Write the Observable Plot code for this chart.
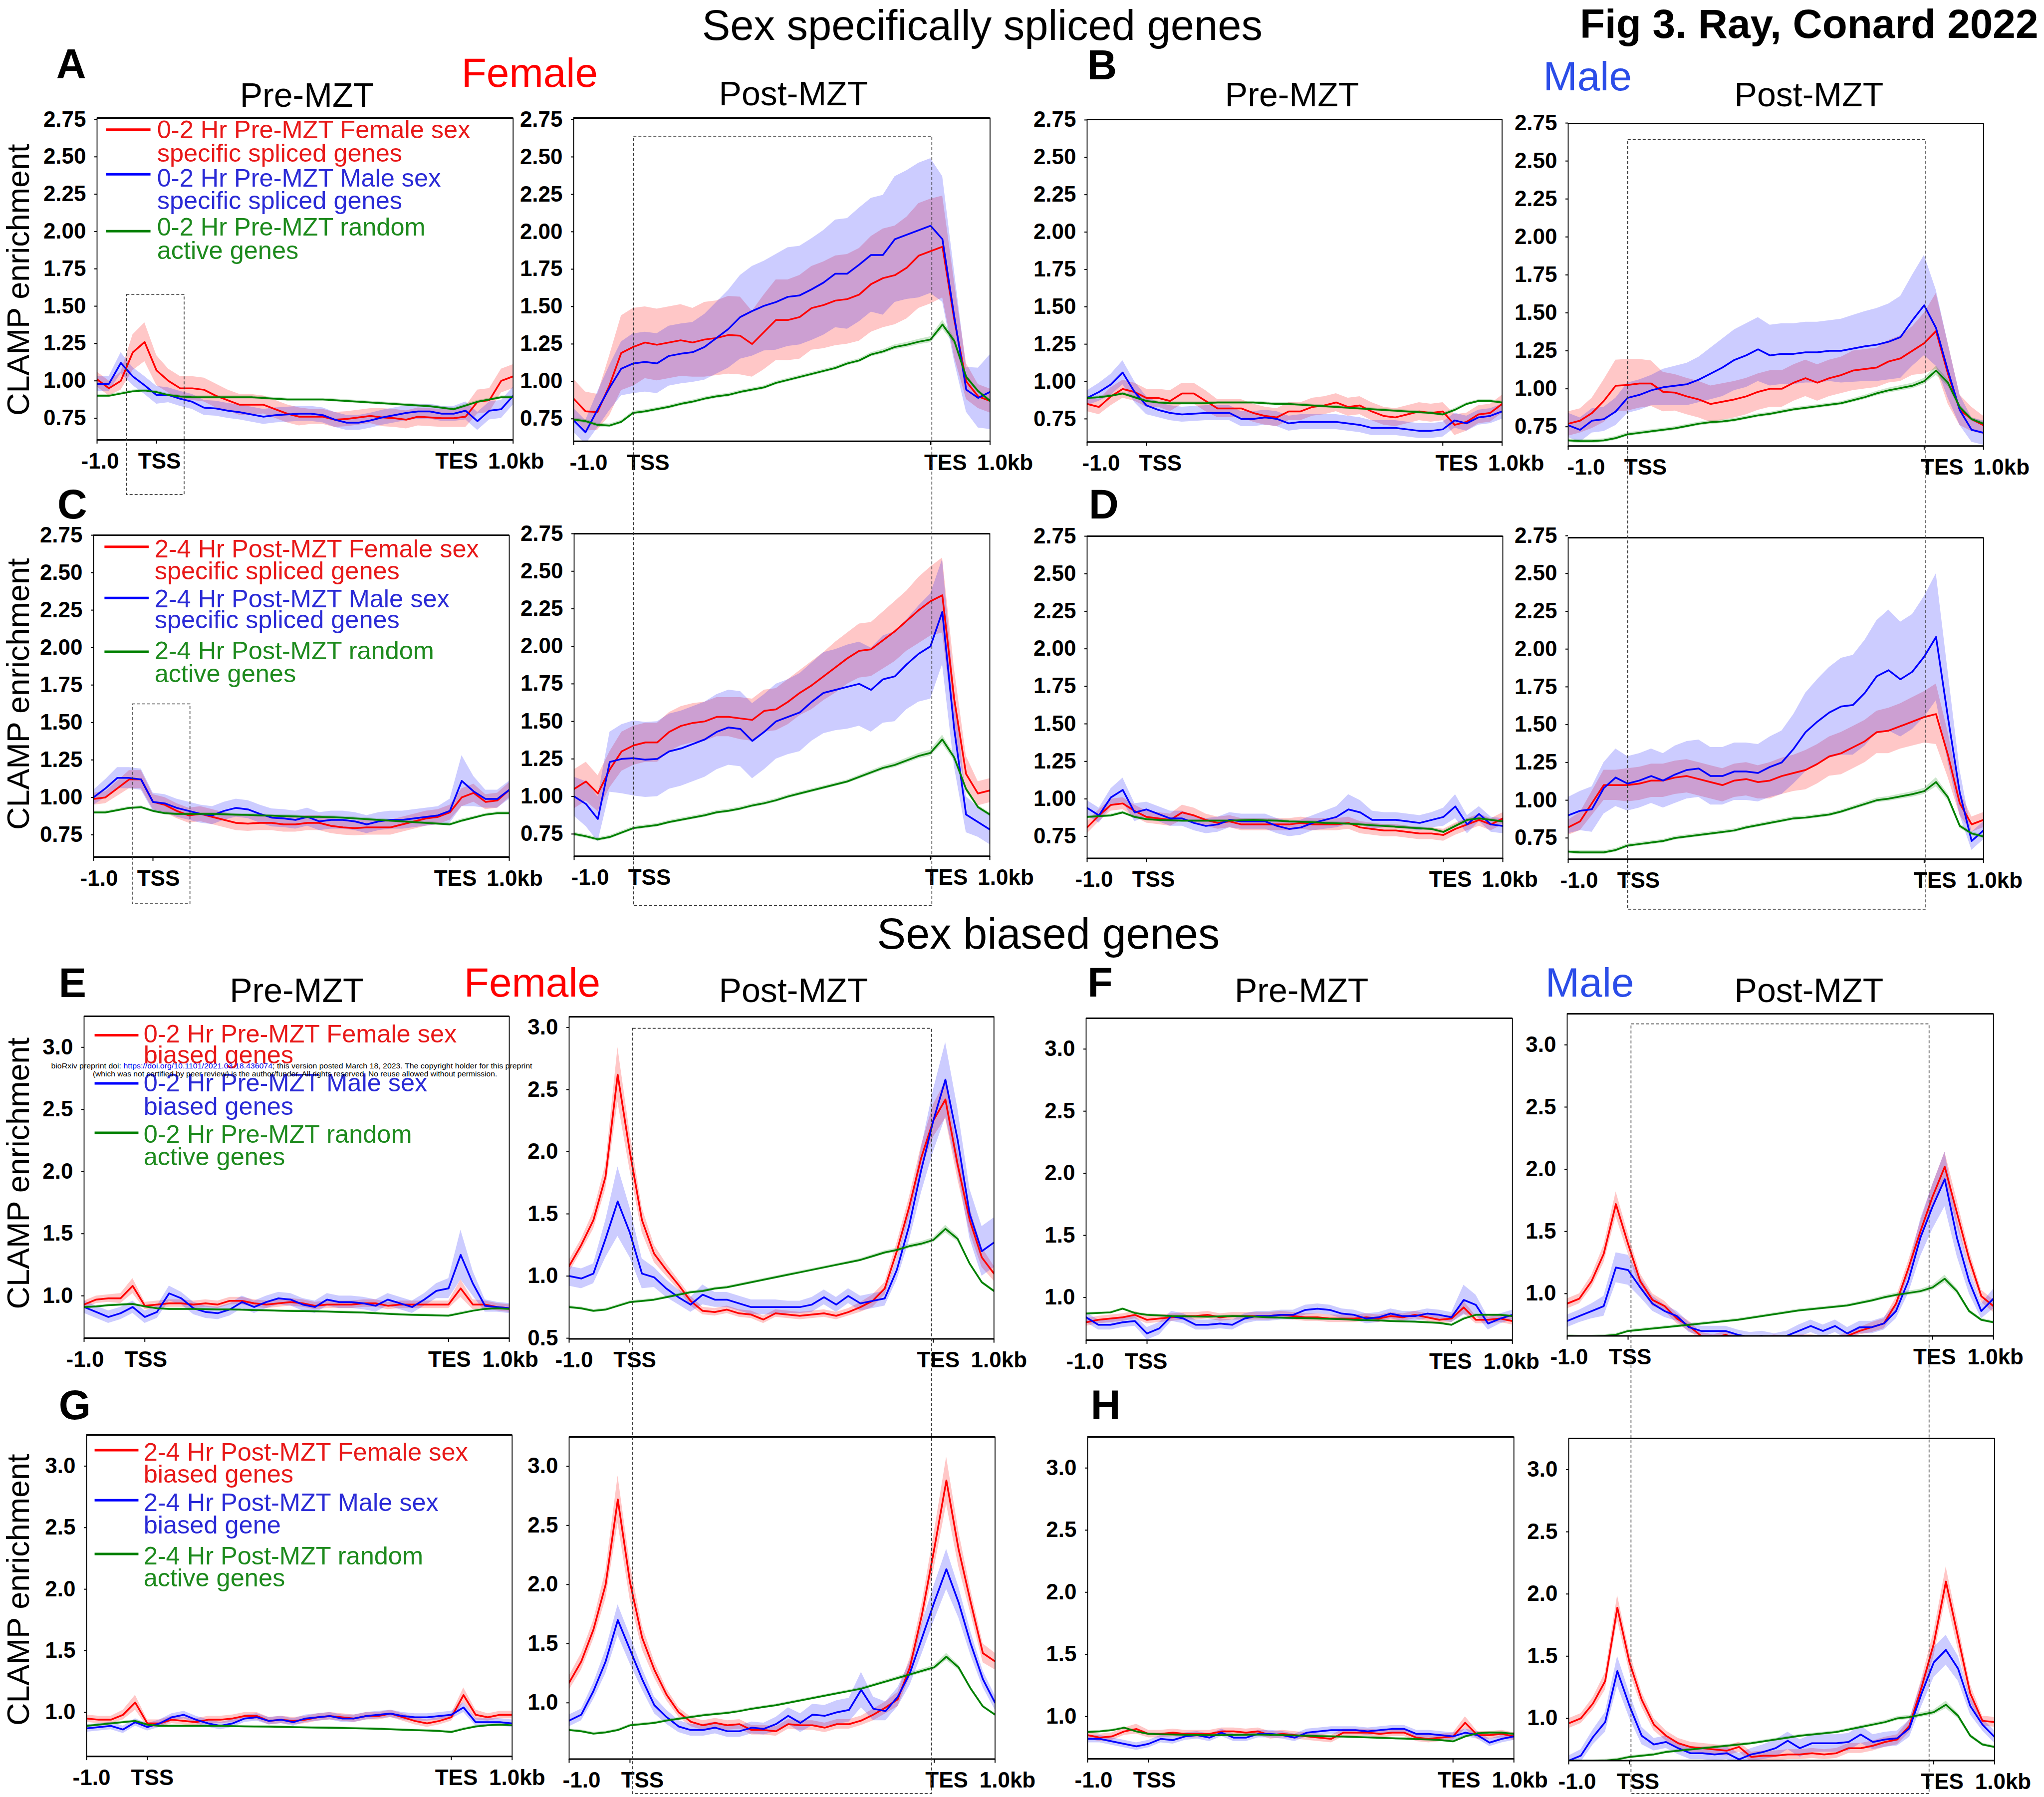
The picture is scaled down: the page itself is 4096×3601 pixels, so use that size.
<!DOCTYPE html>
<html>
<head>
<meta charset="utf-8">
<script src="https://cdn.jsdelivr.net/npm/d3@7"></script>
<script src="https://cdn.jsdelivr.net/npm/@observablehq/plot@0.6"></script>
<style>
html,body{margin:0;padding:0;background:#fff;}
#fig{position:relative;width:4096px;height:3601px;overflow:hidden;background:#fff;}
.panel{position:absolute;}
.panel svg text{font-weight:700 !important;}
</style>
</head>
<body>
<div id="fig"></div>
<script>
// ---------------- DATA ----------------
const binIndex = [0,1,2,3,4,5,6,7,8,9,10,11,12,13,14,15,16,17,18,19,20,21,22,23,24,25,26,27,28,29,30,31,32,33,34,35];
const xTickPos = [0, 5, 30, 35];
const xTickLabels = ["-1.0", "TSS", "TES", "1.0kb"];
const yTicksSpliced = [0.75, 1.0, 1.25, 1.5, 1.75, 2.0, 2.25, 2.5, 2.75];
const yTicksBiased = [1.0, 1.5, 2.0, 2.5, 3.0];
const yTicksBiasedLow = [0.5, 1.0, 1.5, 2.0, 2.5, 3.0];
const seriesColors = ["#ff0000", "#0000ff", "#008000"];

const random_se_pre = [0.01,0.01,0.01,0.01,0.01,0.01, 0.01,0.01,0.01,0.01,0.01,0.01, 0.01,0.01,0.01,0.01,0.01,0.01, 0.01,0.01,0.01,0.01,0.01,0.01, 0.01,0.01,0.01,0.01,0.01,0.01, 0.01,0.012,0.01,0.01,0.01,0.01];
const random_se_post = [0.012,0.012,0.012,0.012,0.012,0.012, 0.012,0.012,0.012,0.012,0.012,0.012, 0.012,0.012,0.012,0.012,0.012,0.012, 0.012,0.012,0.012,0.012,0.012,0.012, 0.013,0.014,0.015,0.016,0.017,0.018, 0.02,0.03,0.022,0.015,0.012,0.012];

const A_pre_female = [1.01,0.95,1.00,1.19,1.26,1.07, 1.00,0.95,0.95,0.94,0.90,0.87, 0.84,0.84,0.84,0.81,0.78,0.76, 0.76,0.76,0.74,0.745,0.755,0.765, 0.755,0.75,0.74,0.76,0.755,0.75, 0.75,0.76,0.86,0.87,1.00,1.03];
const A_pre_female_se = [0.05,0.05,0.06,0.12,0.13,0.10, 0.08,0.08,0.08,0.08,0.08,0.07, 0.07,0.07,0.06,0.06,0.06,0.06, 0.05,0.05,0.05,0.05,0.05,0.05, 0.06,0.06,0.06,0.06,0.06,0.06, 0.06,0.07,0.08,0.08,0.08,0.08];
const A_pre_male = [0.98,0.98,1.12,1.03,0.97,0.905, 0.905,0.88,0.86,0.82,0.815,0.80, 0.79,0.775,0.76,0.77,0.775,0.78, 0.78,0.77,0.74,0.72,0.72,0.735, 0.755,0.77,0.785,0.795,0.795,0.78, 0.78,0.80,0.73,0.80,0.81,0.90];
const A_pre_male_se = [0.05,0.05,0.07,0.06,0.06,0.06, 0.05,0.05,0.05,0.05,0.05,0.05, 0.05,0.05,0.05,0.05,0.05,0.05, 0.05,0.05,0.05,0.05,0.05,0.05, 0.05,0.05,0.05,0.05,0.05,0.05, 0.05,0.06,0.06,0.06,0.06,0.06];
const A_pre_random = [0.90,0.90,0.915,0.93,0.935,0.925, 0.905,0.895,0.89,0.89,0.89,0.89, 0.89,0.89,0.885,0.88,0.875,0.875, 0.875,0.875,0.87,0.865,0.86,0.855, 0.85,0.845,0.84,0.835,0.83,0.82, 0.81,0.835,0.86,0.875,0.89,0.89];

const A_post_female = [0.885,0.80,0.795,0.97,1.19,1.23, 1.26,1.245,1.26,1.275,1.26,1.28, 1.29,1.31,1.305,1.25,1.33,1.41, 1.41,1.43,1.49,1.51,1.54,1.55, 1.58,1.65,1.69,1.71,1.76,1.84, 1.87,1.90,1.41,1.00,0.90,0.87];
const A_post_female_se = [0.13,0.13,0.12,0.20,0.25,0.26, 0.24,0.24,0.24,0.24,0.23,0.25, 0.25,0.26,0.26,0.22,0.25,0.27, 0.27,0.28,0.28,0.29,0.30,0.30, 0.31,0.32,0.33,0.33,0.34,0.35, 0.35,0.34,0.25,0.12,0.08,0.08];
const A_post_male = [0.74,0.66,0.81,0.955,1.085,1.12, 1.13,1.12,1.17,1.185,1.195,1.23, 1.29,1.35,1.43,1.47,1.505,1.53, 1.565,1.575,1.615,1.66,1.72,1.72, 1.78,1.845,1.845,1.95,1.98,2.01, 2.04,1.95,1.43,0.945,0.89,0.93];
const A_post_male_se = [0.08,0.08,0.12,0.15,0.18,0.20, 0.20,0.20,0.20,0.20,0.20,0.22, 0.24,0.26,0.28,0.30,0.30,0.32, 0.33,0.33,0.34,0.35,0.36,0.37, 0.38,0.38,0.40,0.42,0.43,0.45, 0.45,0.42,0.30,0.15,0.20,0.25];
const A_post_random = [0.745,0.735,0.71,0.705,0.73,0.79, 0.80,0.815,0.83,0.85,0.865,0.885, 0.90,0.91,0.93,0.945,0.96,0.99, 1.01,1.03,1.05,1.07,1.09,1.12, 1.14,1.18,1.20,1.23,1.245,1.265, 1.28,1.38,1.27,1.03,0.935,0.87];

const B_pre_female = [0.85,0.83,0.90,0.95,0.93,0.89, 0.89,0.87,0.92,0.92,0.87,0.82, 0.82,0.82,0.79,0.77,0.76,0.80, 0.80,0.83,0.84,0.86,0.83,0.84, 0.80,0.77,0.76,0.78,0.80,0.79, 0.80,0.71,0.73,0.78,0.79,0.85];
const B_pre_female_se = [0.05,0.05,0.06,0.06,0.06,0.06, 0.06,0.07,0.07,0.07,0.07,0.06, 0.06,0.06,0.06,0.06,0.06,0.06, 0.06,0.06,0.06,0.06,0.06,0.06, 0.06,0.06,0.06,0.06,0.06,0.06, 0.06,0.07,0.06,0.06,0.06,0.06];
const B_pre_male = [0.89,0.93,0.98,1.06,0.93,0.84, 0.81,0.79,0.78,0.785,0.79,0.79, 0.79,0.75,0.75,0.76,0.75,0.72, 0.73,0.73,0.73,0.73,0.72,0.71, 0.69,0.69,0.69,0.68,0.67,0.67, 0.68,0.74,0.72,0.76,0.77,0.80];
const B_pre_male_se = [0.05,0.06,0.07,0.08,0.07,0.06, 0.05,0.05,0.05,0.05,0.05,0.05, 0.05,0.05,0.05,0.05,0.05,0.05, 0.05,0.05,0.05,0.05,0.05,0.05, 0.05,0.05,0.05,0.05,0.05,0.05, 0.05,0.05,0.05,0.05,0.05,0.05];
const B_pre_random = [0.89,0.895,0.905,0.92,0.895,0.87, 0.86,0.855,0.855,0.855,0.855,0.86, 0.86,0.86,0.86,0.855,0.85,0.85, 0.845,0.84,0.835,0.83,0.825,0.82, 0.815,0.81,0.805,0.80,0.795,0.79, 0.78,0.81,0.85,0.87,0.87,0.86];

const B_post_female = [0.77,0.79,0.84,0.92,1.02,1.025, 1.035,1.035,0.98,0.975,0.95,0.93, 0.90,0.915,0.93,0.95,0.98,1.00, 1.00,1.04,1.07,1.04,1.07,1.09, 1.12,1.13,1.14,1.18,1.20,1.25, 1.30,1.38,1.10,0.86,0.80,0.76];
const B_post_female_se = [0.08,0.08,0.10,0.14,0.17,0.17, 0.16,0.15,0.13,0.12,0.12,0.12, 0.12,0.12,0.12,0.12,0.12,0.12, 0.12,0.12,0.12,0.12,0.12,0.12, 0.13,0.13,0.13,0.14,0.15,0.16, 0.20,0.25,0.20,0.10,0.08,0.06];
const B_post_male = [0.76,0.73,0.79,0.80,0.85,0.94, 0.96,0.99,1.01,1.02,1.03,1.06, 1.10,1.14,1.19,1.22,1.26,1.22, 1.23,1.23,1.24,1.24,1.25,1.25, 1.265,1.28,1.29,1.31,1.34,1.45, 1.55,1.40,1.12,0.86,0.73,0.71];
const B_post_male_se = [0.08,0.08,0.08,0.08,0.09,0.10, 0.10,0.10,0.12,0.13,0.14,0.15, 0.17,0.19,0.20,0.21,0.21,0.20, 0.20,0.20,0.20,0.20,0.20,0.21, 0.22,0.23,0.24,0.25,0.27,0.30, 0.33,0.25,0.18,0.10,0.08,0.08];
const B_post_random = [0.66,0.655,0.655,0.66,0.675,0.70, 0.71,0.72,0.73,0.74,0.755,0.77, 0.78,0.785,0.795,0.81,0.825,0.835, 0.85,0.865,0.875,0.885,0.895,0.905, 0.925,0.945,0.97,0.99,1.005,1.02, 1.05,1.12,1.04,0.88,0.80,0.77];

const C_pre_female = [0.99,1.00,1.06,1.12,1.12,0.97, 0.95,0.91,0.88,0.89,0.87,0.85, 0.83,0.825,0.83,0.83,0.82,0.82, 0.83,0.83,0.81,0.80,0.795,0.80, 0.80,0.80,0.82,0.84,0.86,0.87, 0.90,1.00,1.03,0.97,0.98,1.05];
const C_pre_female_se = [0.04,0.04,0.05,0.06,0.06,0.05, 0.05,0.05,0.05,0.05,0.05,0.05, 0.05,0.05,0.05,0.05,0.05,0.05, 0.05,0.05,0.05,0.05,0.05,0.05, 0.05,0.05,0.05,0.05,0.05,0.05, 0.05,0.06,0.06,0.05,0.05,0.05];
const C_pre_male = [1.00,1.06,1.13,1.13,1.12,0.97, 0.96,0.93,0.91,0.89,0.88,0.91, 0.93,0.92,0.89,0.865,0.86,0.85, 0.87,0.84,0.85,0.85,0.84,0.82, 0.84,0.85,0.85,0.86,0.87,0.88, 0.91,1.11,1.04,0.99,0.99,1.05];
const C_pre_male_se = [0.05,0.06,0.07,0.07,0.07,0.06, 0.06,0.06,0.06,0.06,0.06,0.06, 0.06,0.06,0.06,0.06,0.06,0.06, 0.06,0.06,0.06,0.06,0.06,0.06, 0.06,0.06,0.06,0.06,0.06,0.06, 0.08,0.17,0.10,0.06,0.06,0.06];
const C_pre_random = [0.90,0.90,0.915,0.93,0.935,0.91, 0.895,0.89,0.89,0.89,0.89,0.887, 0.885,0.883,0.88,0.878,0.875,0.873, 0.87,0.87,0.868,0.865,0.86,0.855, 0.85,0.845,0.84,0.835,0.83,0.825, 0.82,0.845,0.865,0.885,0.895,0.895];

const C_post_female = [1.05,1.10,1.02,1.18,1.30,1.34, 1.36,1.36,1.43,1.47,1.49,1.50, 1.53,1.53,1.52,1.51,1.57,1.58, 1.63,1.69,1.74,1.80,1.86,1.92, 1.97,1.98,2.04,2.10,2.17,2.24, 2.30,2.34,1.65,1.15,1.02,1.04];
const C_post_female_se = [0.13,0.13,0.12,0.12,0.13,0.13, 0.13,0.13,0.13,0.13,0.13,0.13, 0.13,0.13,0.14,0.14,0.14,0.14, 0.15,0.15,0.16,0.16,0.17,0.17, 0.18,0.18,0.19,0.20,0.20,0.22, 0.23,0.25,0.20,0.12,0.08,0.08];
const C_post_male = [1.00,0.95,0.85,1.23,1.25,1.255, 1.245,1.25,1.30,1.32,1.35,1.38, 1.43,1.46,1.45,1.37,1.43,1.50, 1.53,1.56,1.63,1.69,1.71,1.73, 1.75,1.71,1.78,1.80,1.88,1.95, 2.00,2.23,1.45,0.88,0.83,0.78];
const C_post_male_se = [0.13,0.15,0.15,0.20,0.23,0.25, 0.25,0.25,0.25,0.25,0.25,0.25, 0.25,0.25,0.25,0.25,0.25,0.25, 0.25,0.26,0.26,0.27,0.27,0.28, 0.28,0.28,0.29,0.30,0.30,0.32, 0.35,0.35,0.25,0.12,0.10,0.10];
const C_post_random = [0.75,0.735,0.715,0.73,0.76,0.79, 0.80,0.81,0.83,0.845,0.86,0.875, 0.895,0.905,0.92,0.94,0.955,0.975, 1.00,1.02,1.04,1.06,1.08,1.10, 1.13,1.16,1.19,1.21,1.24,1.27, 1.29,1.38,1.26,1.05,0.93,0.88];

const D_pre_female = [0.81,0.89,0.96,0.97,0.92,0.88, 0.87,0.86,0.91,0.89,0.86,0.84, 0.85,0.83,0.83,0.83,0.83,0.83, 0.84,0.83,0.83,0.83,0.84,0.81, 0.80,0.79,0.79,0.78,0.77,0.77, 0.76,0.80,0.83,0.86,0.83,0.87];
const D_pre_female_se = [0.04,0.04,0.04,0.04,0.04,0.04, 0.04,0.04,0.05,0.05,0.04,0.04, 0.04,0.04,0.04,0.04,0.04,0.04, 0.04,0.04,0.04,0.04,0.04,0.04, 0.04,0.04,0.04,0.04,0.04,0.04, 0.04,0.04,0.04,0.04,0.04,0.04];
const D_pre_male = [0.94,0.89,1.01,1.06,0.91,0.93, 0.90,0.87,0.87,0.84,0.82,0.83, 0.86,0.85,0.85,0.85,0.82,0.80, 0.81,0.84,0.86,0.88,0.93,0.91, 0.86,0.86,0.86,0.85,0.84,0.86, 0.88,0.95,0.83,0.90,0.83,0.82];
const D_pre_male_se = [0.05,0.05,0.06,0.08,0.06,0.05, 0.05,0.05,0.05,0.05,0.05,0.05, 0.05,0.05,0.05,0.05,0.05,0.05, 0.05,0.05,0.06,0.07,0.10,0.08, 0.06,0.05,0.05,0.05,0.05,0.05, 0.06,0.08,0.06,0.05,0.05,0.05];
const D_pre_random = [0.88,0.885,0.89,0.91,0.88,0.865, 0.86,0.858,0.855,0.855,0.855,0.855, 0.855,0.858,0.86,0.857,0.855,0.85, 0.848,0.845,0.84,0.838,0.835,0.83, 0.825,0.82,0.815,0.81,0.805,0.80, 0.78,0.82,0.86,0.87,0.86,0.85];

const D_post_female = [0.82,0.86,0.98,1.10,1.10,1.10, 1.11,1.13,1.13,1.15,1.16,1.14, 1.12,1.10,1.13,1.14,1.12,1.13, 1.16,1.18,1.20,1.24,1.29,1.31, 1.35,1.39,1.45,1.46,1.49,1.52, 1.55,1.57,1.30,0.98,0.84,0.87];
const D_post_female_se = [0.05,0.06,0.08,0.10,0.10,0.11, 0.11,0.11,0.11,0.11,0.11,0.11, 0.11,0.11,0.11,0.11,0.11,0.12, 0.12,0.12,0.13,0.13,0.13,0.14, 0.14,0.14,0.14,0.15,0.15,0.16, 0.17,0.20,0.15,0.08,0.05,0.05];
const D_post_male = [0.90,0.93,0.94,1.08,1.15,1.11, 1.13,1.16,1.13,1.17,1.20,1.21, 1.16,1.16,1.19,1.19,1.18,1.22, 1.25,1.34,1.45,1.52,1.58,1.62, 1.63,1.71,1.82,1.86,1.80,1.85, 1.95,2.08,1.55,1.05,0.73,0.80];
const D_post_male_se = [0.12,0.13,0.15,0.17,0.19,0.18, 0.18,0.18,0.18,0.19,0.19,0.19, 0.19,0.19,0.19,0.19,0.19,0.20, 0.21,0.23,0.26,0.28,0.30,0.32, 0.33,0.35,0.37,0.40,0.38,0.38, 0.40,0.42,0.30,0.15,0.06,0.06];
const D_post_random = [0.66,0.655,0.655,0.655,0.67,0.70, 0.71,0.72,0.73,0.75,0.76,0.77, 0.78,0.79,0.80,0.82,0.835,0.85, 0.865,0.88,0.885,0.895,0.905,0.925, 0.95,0.975,1.00,1.01,1.025,1.04, 1.06,1.12,1.02,0.83,0.78,0.76];

const E_pre_female = [0.93,0.97,0.98,0.98,1.08,0.92, 0.93,0.94,0.94,0.93,0.94,0.93, 0.96,0.96,0.94,0.93,0.94,0.95, 0.94,0.92,0.93,0.93,0.93,0.94, 0.94,0.92,0.93,0.93,0.93,0.93, 0.93,1.06,0.93,0.93,0.91,0.90];
const E_pre_female_se = [0.03,0.03,0.03,0.04,0.06,0.03, 0.03,0.03,0.03,0.03,0.03,0.03, 0.03,0.03,0.03,0.03,0.03,0.03, 0.03,0.03,0.03,0.03,0.03,0.03, 0.03,0.03,0.03,0.03,0.03,0.03, 0.03,0.07,0.04,0.03,0.03,0.03];
const E_pre_male = [0.91,0.87,0.83,0.86,0.91,0.83, 0.87,1.02,0.98,0.90,0.87,0.86, 0.89,0.95,0.91,0.95,0.98,0.97, 0.93,0.91,0.97,0.95,0.95,0.94, 0.92,0.97,0.94,0.91,0.97,1.04, 1.06,1.33,1.10,0.92,0.91,0.90];
const E_pre_male_se = [0.05,0.05,0.05,0.05,0.05,0.05, 0.05,0.06,0.05,0.05,0.05,0.05, 0.05,0.05,0.05,0.05,0.05,0.05, 0.05,0.05,0.05,0.05,0.05,0.05, 0.05,0.05,0.05,0.05,0.05,0.06, 0.08,0.20,0.10,0.05,0.04,0.04];
const E_pre_random = [0.91,0.915,0.925,0.93,0.935,0.915, 0.90,0.895,0.895,0.895,0.893,0.89, 0.89,0.888,0.885,0.883,0.88,0.878, 0.877,0.875,0.873,0.87,0.867,0.865, 0.86,0.855,0.85,0.847,0.845,0.842, 0.84,0.86,0.88,0.895,0.90,0.895];

const E_post_female = [1.08,1.25,1.45,1.80,2.62,2.00, 1.45,1.18,1.05,0.93,0.80,0.72, 0.71,0.73,0.70,0.69,0.65,0.70, 0.69,0.68,0.69,0.70,0.68,0.71, 0.75,0.80,0.90,1.20,1.55,1.95, 2.25,2.42,1.90,1.45,1.15,1.02];
const E_post_female_se = [0.05,0.05,0.07,0.10,0.22,0.15, 0.10,0.07,0.05,0.04,0.04,0.03, 0.03,0.03,0.03,0.03,0.03,0.03, 0.03,0.03,0.03,0.03,0.03,0.03, 0.04,0.05,0.05,0.07,0.08,0.10, 0.13,0.15,0.12,0.10,0.08,0.06];
const E_post_male = [1.00,0.98,1.02,1.30,1.60,1.35, 1.02,0.99,0.90,0.83,0.77,0.85, 0.81,0.81,0.78,0.75,0.75,0.75, 0.75,0.75,0.77,0.83,0.77,0.84, 0.78,0.80,0.82,1.05,1.40,1.85, 2.25,2.58,2.10,1.50,1.20,1.27];
const E_post_male_se = [0.08,0.08,0.08,0.15,0.28,0.20, 0.12,0.08,0.07,0.06,0.06,0.08, 0.06,0.06,0.06,0.06,0.06,0.06, 0.05,0.05,0.06,0.06,0.06,0.06, 0.06,0.06,0.06,0.08,0.12,0.18, 0.25,0.30,0.25,0.20,0.20,0.20];
const E_post_random = [0.75,0.74,0.72,0.73,0.76,0.79, 0.80,0.81,0.83,0.85,0.87,0.88, 0.90,0.91,0.93,0.95,0.97,0.99, 1.01,1.03,1.05,1.07,1.09,1.11, 1.13,1.16,1.19,1.21,1.24,1.26, 1.29,1.38,1.30,1.10,0.95,0.88];

const F_pre_female = [0.80,0.82,0.83,0.84,0.86,0.82, 0.83,0.84,0.85,0.85,0.86,0.84, 0.85,0.85,0.85,0.85,0.86,0.85, 0.84,0.84,0.83,0.83,0.83,0.84, 0.83,0.85,0.84,0.86,0.84,0.82, 0.83,0.92,0.82,0.82,0.83,0.81];
const F_pre_female_se = [0.03,0.03,0.03,0.03,0.03,0.03, 0.03,0.03,0.03,0.03,0.03,0.03, 0.03,0.03,0.03,0.03,0.03,0.03, 0.03,0.03,0.03,0.03,0.03,0.03, 0.03,0.03,0.03,0.03,0.03,0.03, 0.03,0.05,0.03,0.03,0.03,0.03];
const F_pre_male = [0.84,0.78,0.78,0.80,0.81,0.71, 0.75,0.85,0.83,0.78,0.78,0.79, 0.78,0.83,0.85,0.85,0.86,0.86, 0.90,0.91,0.90,0.87,0.86,0.83, 0.84,0.87,0.85,0.85,0.87,0.86, 0.84,0.98,0.94,0.79,0.83,0.86];
const F_pre_male_se = [0.04,0.04,0.04,0.04,0.04,0.05, 0.05,0.04,0.04,0.04,0.04,0.04, 0.04,0.04,0.04,0.04,0.04,0.04, 0.04,0.04,0.04,0.04,0.04,0.04, 0.04,0.04,0.04,0.04,0.04,0.04, 0.04,0.12,0.08,0.05,0.04,0.04];
const F_pre_random = [0.87,0.875,0.88,0.91,0.875,0.86, 0.855,0.85,0.848,0.846,0.845,0.847, 0.85,0.848,0.845,0.84,0.837,0.835, 0.833,0.83,0.828,0.825,0.82,0.817, 0.815,0.81,0.807,0.805,0.80,0.795, 0.78,0.83,0.86,0.86,0.86,0.85];

const F_post_female = [0.92,0.96,1.10,1.32,1.72,1.40, 1.10,0.95,0.90,0.80,0.74,0.66, 0.64,0.67,0.63,0.63,0.62,0.64, 0.63,0.64,0.64,0.63,0.62,0.66, 0.70,0.73,0.76,0.92,1.20,1.50, 1.78,2.02,1.65,1.28,0.98,0.90];
const F_post_female_se = [0.04,0.04,0.05,0.07,0.10,0.08, 0.06,0.05,0.04,0.04,0.04,0.03, 0.03,0.03,0.03,0.03,0.03,0.03, 0.03,0.03,0.03,0.03,0.03,0.03, 0.03,0.04,0.04,0.05,0.06,0.08, 0.10,0.12,0.10,0.07,0.05,0.05];
const F_post_male = [0.78,0.82,0.86,0.90,1.21,1.19, 1.05,0.92,0.86,0.82,0.73,0.70, 0.70,0.70,0.67,0.65,0.66,0.64, 0.66,0.70,0.74,0.70,0.74,0.68, 0.73,0.73,0.76,0.86,1.10,1.45, 1.70,1.92,1.45,1.10,0.86,0.96];
const F_post_male_se = [0.05,0.05,0.06,0.08,0.12,0.12, 0.08,0.06,0.05,0.04,0.04,0.04, 0.04,0.04,0.04,0.04,0.04,0.04, 0.04,0.05,0.05,0.05,0.05,0.05, 0.05,0.05,0.05,0.06,0.10,0.15, 0.18,0.22,0.15,0.10,0.06,0.08];
const F_post_random = [0.66,0.655,0.655,0.66,0.67,0.70, 0.71,0.72,0.73,0.74,0.75,0.76, 0.77,0.78,0.79,0.805,0.82,0.835, 0.85,0.865,0.875,0.885,0.895,0.905, 0.925,0.945,0.97,0.99,1.005,1.02, 1.05,1.12,1.02,0.86,0.79,0.77];

const G_pre_female = [0.95,0.94,0.94,0.98,1.08,0.91, 0.91,0.94,0.93,0.92,0.94,0.94, 0.95,0.97,0.97,0.93,0.94,0.93, 0.94,0.96,0.97,0.96,0.95,0.97, 0.97,0.99,0.96,0.93,0.91,0.93, 0.96,1.14,0.98,0.96,0.98,0.98];
const G_pre_female_se = [0.03,0.03,0.03,0.04,0.06,0.03, 0.03,0.03,0.03,0.03,0.03,0.03, 0.03,0.03,0.03,0.03,0.03,0.03, 0.03,0.03,0.03,0.03,0.03,0.03, 0.03,0.03,0.03,0.03,0.03,0.03, 0.03,0.06,0.04,0.03,0.03,0.03];
const G_pre_male = [0.87,0.88,0.89,0.86,0.92,0.88, 0.91,0.96,0.98,0.94,0.91,0.89, 0.91,0.95,0.96,0.93,0.94,0.92, 0.95,0.96,0.97,0.95,0.95,0.97, 0.98,0.99,0.97,0.96,0.96,0.97, 0.98,1.04,0.92,0.92,0.92,0.91];
const G_pre_male_se = [0.03,0.03,0.03,0.03,0.03,0.03, 0.03,0.03,0.03,0.03,0.03,0.03, 0.03,0.03,0.03,0.03,0.03,0.03, 0.03,0.03,0.03,0.03,0.03,0.03, 0.03,0.03,0.03,0.03,0.03,0.03, 0.03,0.04,0.03,0.03,0.03,0.03];
const G_pre_random = [0.89,0.90,0.91,0.92,0.93,0.90, 0.89,0.89,0.89,0.89,0.89,0.89, 0.888,0.886,0.885,0.884,0.882,0.88, 0.878,0.876,0.875,0.873,0.871,0.869, 0.866,0.862,0.858,0.855,0.852,0.848, 0.84,0.865,0.885,0.895,0.90,0.895];

const G_post_female = [1.17,1.35,1.62,2.00,2.72,2.02, 1.55,1.28,1.07,0.92,0.84,0.81, 0.83,0.81,0.82,0.77,0.77,0.76, 0.82,0.81,0.81,0.79,0.82,0.82, 0.85,0.90,0.96,1.03,1.30,1.75, 2.30,2.88,2.30,1.85,1.42,1.35];
const G_post_female_se = [0.06,0.07,0.08,0.12,0.20,0.15, 0.10,0.07,0.05,0.04,0.04,0.04, 0.04,0.04,0.04,0.04,0.04,0.04, 0.04,0.04,0.04,0.04,0.04,0.04, 0.04,0.05,0.05,0.06,0.08,0.10, 0.15,0.20,0.15,0.10,0.08,0.07];
const G_post_male = [0.85,0.90,1.10,1.35,1.70,1.45, 1.20,0.98,0.88,0.80,0.77,0.77, 0.79,0.76,0.76,0.79,0.78,0.82, 0.89,0.83,0.90,0.89,0.92,0.94, 1.11,0.95,0.93,1.05,1.25,1.55, 1.85,2.13,1.85,1.50,1.20,1.00];
const G_post_male_se = [0.05,0.05,0.07,0.10,0.13,0.12, 0.09,0.07,0.06,0.05,0.05,0.05, 0.05,0.05,0.05,0.05,0.05,0.06, 0.07,0.08,0.09,0.09,0.10,0.10, 0.15,0.10,0.08,0.08,0.10,0.13, 0.15,0.17,0.13,0.10,0.07,0.06];
const G_post_random = [0.77,0.76,0.74,0.75,0.77,0.81, 0.82,0.83,0.85,0.865,0.88,0.895, 0.905,0.915,0.93,0.95,0.965,0.98, 1.00,1.02,1.04,1.06,1.08,1.10, 1.12,1.15,1.18,1.21,1.24,1.27, 1.30,1.39,1.30,1.12,0.97,0.90];

const H_pre_female = [0.85,0.83,0.84,0.88,0.90,0.86, 0.86,0.87,0.86,0.86,0.86,0.88, 0.88,0.87,0.88,0.85,0.86,0.85, 0.84,0.83,0.82,0.87,0.87,0.87, 0.86,0.87,0.87,0.83,0.82,0.83, 0.84,0.95,0.85,0.85,0.86,0.84];
const H_pre_female_se = [0.03,0.03,0.03,0.03,0.04,0.03, 0.03,0.03,0.03,0.03,0.03,0.03, 0.03,0.03,0.03,0.03,0.03,0.03, 0.03,0.03,0.03,0.03,0.03,0.03, 0.03,0.03,0.03,0.03,0.03,0.03, 0.03,0.05,0.03,0.03,0.03,0.03];
const H_pre_male = [0.82,0.82,0.80,0.78,0.76,0.78, 0.82,0.81,0.84,0.85,0.83,0.87, 0.83,0.83,0.86,0.86,0.85,0.83, 0.87,0.88,0.89,0.89,0.89,0.88, 0.89,0.90,0.90,0.86,0.86,0.85, 0.84,0.87,0.85,0.79,0.82,0.84];
const H_pre_male_se = [0.03,0.03,0.03,0.03,0.03,0.03, 0.03,0.03,0.03,0.03,0.03,0.03, 0.03,0.03,0.03,0.03,0.03,0.03, 0.03,0.03,0.03,0.03,0.03,0.03, 0.03,0.03,0.03,0.03,0.03,0.03, 0.03,0.03,0.03,0.03,0.03,0.03];
const H_pre_random = [0.875,0.88,0.89,0.91,0.88,0.86, 0.857,0.855,0.853,0.851,0.85,0.85, 0.851,0.853,0.855,0.853,0.85,0.848, 0.845,0.842,0.84,0.838,0.835,0.832, 0.828,0.825,0.822,0.818,0.815,0.81, 0.80,0.84,0.865,0.87,0.87,0.86];

const H_post_female = [0.96,1.00,1.12,1.30,1.89,1.45, 1.15,0.95,0.86,0.80,0.77,0.76, 0.75,0.74,0.77,0.69,0.70,0.70, 0.71,0.71,0.72,0.71,0.72,0.76, 0.76,0.78,0.81,0.83,0.94,1.25, 1.60,2.10,1.65,1.20,0.98,0.97];
const H_post_female_se = [0.04,0.04,0.05,0.07,0.10,0.08, 0.06,0.05,0.04,0.04,0.04,0.04, 0.04,0.04,0.04,0.04,0.04,0.04, 0.04,0.04,0.04,0.04,0.04,0.04, 0.04,0.04,0.04,0.04,0.05,0.07, 0.10,0.12,0.10,0.07,0.04,0.04];
const H_post_male = [0.66,0.70,0.85,0.97,1.38,1.10, 0.86,0.79,0.81,0.76,0.72,0.72, 0.71,0.72,0.67,0.71,0.73,0.76, 0.82,0.76,0.80,0.80,0.80,0.81, 0.87,0.81,0.83,0.84,0.92,1.20, 1.45,1.55,1.40,1.10,0.95,0.85];
const H_post_male_se = [0.04,0.05,0.06,0.08,0.12,0.10, 0.07,0.05,0.05,0.05,0.05,0.05, 0.05,0.05,0.05,0.05,0.06,0.07, 0.07,0.07,0.07,0.07,0.07,0.07, 0.07,0.06,0.06,0.06,0.07,0.10, 0.12,0.12,0.10,0.07,0.05,0.05];
const H_post_random = [0.66,0.655,0.655,0.66,0.67,0.69, 0.70,0.71,0.73,0.74,0.75,0.76, 0.77,0.78,0.79,0.80,0.815,0.83, 0.845,0.86,0.87,0.88,0.89,0.91, 0.93,0.95,0.97,1.00,1.01,1.03, 1.05,1.11,1.02,0.86,0.79,0.77];

const legendA = [["0-2 Hr Pre-MZT Female sex","specific spliced genes"],["0-2 Hr Pre-MZT Male sex","specific spliced genes"],["0-2 Hr Pre-MZT random","active genes"]];
const legendC = [["2-4 Hr Post-MZT Female sex","specific spliced genes"],["2-4 Hr Post-MZT Male sex","specific spliced genes"],["2-4 Hr Post-MZT random","active genes"]];
const legendE = [["0-2 Hr Pre-MZT Female sex","biased genes"],["0-2 Hr Pre-MZT Male sex","biased genes"],["0-2 Hr Pre-MZT random","active genes"]];
const legendG = [["2-4 Hr Post-MZT Female sex","biased genes"],["2-4 Hr Post-MZT Male sex","biased gene"],["2-4 Hr Post-MZT random","active genes"]];

// table of series per panel (built from the arrays above)
const seriesTable = {
  A_pre:[A_pre_female,A_pre_female_se,A_pre_male,A_pre_male_se,A_pre_random,random_se_pre],
  A_post:[A_post_female,A_post_female_se,A_post_male,A_post_male_se,A_post_random,random_se_post],
  B_pre:[B_pre_female,B_pre_female_se,B_pre_male,B_pre_male_se,B_pre_random,random_se_pre],
  B_post:[B_post_female,B_post_female_se,B_post_male,B_post_male_se,B_post_random,random_se_post],
  C_pre:[C_pre_female,C_pre_female_se,C_pre_male,C_pre_male_se,C_pre_random,random_se_pre],
  C_post:[C_post_female,C_post_female_se,C_post_male,C_post_male_se,C_post_random,random_se_post],
  D_pre:[D_pre_female,D_pre_female_se,D_pre_male,D_pre_male_se,D_pre_random,random_se_pre],
  D_post:[D_post_female,D_post_female_se,D_post_male,D_post_male_se,D_post_random,random_se_post],
  E_pre:[E_pre_female,E_pre_female_se,E_pre_male,E_pre_male_se,E_pre_random,random_se_pre],
  E_post:[E_post_female,E_post_female_se,E_post_male,E_post_male_se,E_post_random,random_se_post],
  F_pre:[F_pre_female,F_pre_female_se,F_pre_male,F_pre_male_se,F_pre_random,random_se_pre],
  F_post:[F_post_female,F_post_female_se,F_post_male,F_post_male_se,F_post_random,random_se_post],
  G_pre:[G_pre_female,G_pre_female_se,G_pre_male,G_pre_male_se,G_pre_random,random_se_pre],
  G_post:[G_post_female,G_post_female_se,G_post_male,G_post_male_se,G_post_random,random_se_post],
  H_pre:[H_pre_female,H_pre_female_se,H_pre_male,H_pre_male_se,H_pre_random,random_se_pre],
  H_post:[H_post_female,H_post_female_se,H_post_male,H_post_male_se,H_post_random,random_se_post]
};

// ---------------- LAYOUT (reference pixel coordinates, scaled by S) ----------------
const S = 0.732;
const FONT = "'Liberation Sans', Arial, Helvetica, sans-serif";
const panels = [
  {key:"A_pre",  L:265, T:322, R:1404, B:1203, y:[0.605,2.76], kind:"s", dx:6},
  {key:"A_post", L:1570,T:323, R:2710, B:1208, y:[0.60,2.76],  kind:"s", dx:30},
  {key:"B_pre",  L:2976,T:327, R:4112, B:1210, y:[0.595,2.753],kind:"s", dx:28},
  {key:"B_post", L:4292,T:337, R:5429, B:1220, y:[0.623,2.747],kind:"s", dx:36},
  {key:"C_pre",  L:255, T:1465,R:1393, B:2346, y:[0.602,2.75], kind:"s", dx:11},
  {key:"C_post", L:1571,T:1461,R:2709, B:2344, y:[0.602,2.75], kind:"s", dx:32},
  {key:"D_pre",  L:2976,T:1467,R:4114, B:2349, y:[0.604,2.75], kind:"s", dx:14},
  {key:"D_post", L:4292,T:1471,R:5429, B:2351, y:[0.61,2.737], kind:"s", dx:22},
  {key:"E_pre",  L:229, T:2781,R:1393, B:3662, y:[0.66,3.25],  kind:"b", dx:2},
  {key:"E_post", L:1557,T:2783,R:2720, B:3665, y:[0.494,3.086],kind:"b5",dx:10},
  {key:"F_pre",  L:2972,T:2787,R:4139, B:3668, y:[0.657,3.248],kind:"b", dx:-2},
  {key:"F_post", L:4290,T:2774,R:5457, B:3656, y:[0.66,3.25],  kind:"b", dx:4},
  {key:"G_pre",  L:237, T:3928,R:1402, B:4808, y:[0.642,3.253],kind:"b", dx:10},
  {key:"G_post", L:1557,T:3933,R:2723, B:4815, y:[0.524,3.248],kind:"b", dx:25},
  {key:"H_pre",  L:2977,T:3933,R:4144, B:4814, y:[0.66,3.25],  kind:"b", dx:12},
  {key:"H_post", L:4294,T:3937,R:5460, B:4819, y:[0.66,3.251], kind:"b", dx:17}
];

const fig = document.getElementById("fig");
const mL = 150, mR = 110, mT = 20, mB = 90;

function rows(vals, se) {
  return binIndex.map((b, i) => ({x: b, y: vals[i], lo: vals[i] - se[i], hi: vals[i] + se[i]}));
}

for (const cfg of panels) {
  const [f, fse, m, mse, r, rse] = seriesTable[cfg.key];
  const dF = rows(f, fse), dM = rows(m, mse), dR = rows(r, rse);
  const W = (cfg.R - cfg.L) * S, H = (cfg.B - cfg.T) * S;
  const yt = cfg.kind === "s" ? yTicksSpliced : (cfg.kind === "b5" ? yTicksBiasedLow : yTicksBiased);
  const fmt = cfg.kind === "s" ? d3.format(".2f") : d3.format(".1f");
  const svg = Plot.plot({
    width: W + mL + mR, height: H + mT + mB,
    marginLeft: mL, marginRight: mR, marginTop: mT, marginBottom: mB,
    x: {domain: [0, 35]},
    y: {domain: cfg.y},
    style: {background: "transparent", fontFamily: FONT, overflow: "visible"},
    marks: [
      Plot.areaY(dF, {x: "x", y1: "lo", y2: "hi", fill: seriesColors[0], fillOpacity: 0.22, clip: true}),
      Plot.areaY(dM, {x: "x", y1: "lo", y2: "hi", fill: seriesColors[1], fillOpacity: 0.2, clip: true}),
      Plot.areaY(dR, {x: "x", y1: "lo", y2: "hi", fill: seriesColors[2], fillOpacity: 0.2, clip: true}),
      Plot.lineY(dF, {x: "x", y: "y", stroke: seriesColors[0], strokeWidth: 3.5, clip: true}),
      Plot.lineY(dM, {x: "x", y: "y", stroke: seriesColors[1], strokeWidth: 3.5, clip: true}),
      Plot.lineY(dR, {x: "x", y: "y", stroke: seriesColors[2], strokeWidth: 3.5, clip: true}),
      Plot.axisY({ticks: yt, tickFormat: fmt, tickSize: 5, tickPadding: 17, fontSize: 44, fontWeight: "bold", label: null, strokeWidth: 2}),
      Plot.axisX({ticks: xTickPos, tickFormat: () => "", tickSize: 8, label: null, strokeWidth: 2}),
      Plot.axisX({ticks: xTickPos, tickFormat: d => xTickLabels[xTickPos.indexOf(d)], tickSize: 0, tickPadding: 26, dx: cfg.dx, fontSize: 44, fontWeight: "bold", label: null}),
      Plot.frame({stroke: "#000", strokeWidth: 1.8}),
      Plot.ruleY([cfg.y[0], cfg.y[1]], {stroke: "#000", strokeWidth: 3})
    ]
  });
  svg.style.background = "transparent";
  svg.style.maxWidth = "none";
  svg.style.overflow = "visible";
  const wrap = document.createElement("div");
  wrap.className = "panel";
  wrap.style.left = (cfg.L * S - mL) + "px";
  wrap.style.top = (cfg.T * S - mT) + "px";
  wrap.appendChild(svg);
  fig.appendChild(wrap);
}

// ---------------- ANNOTATION OVERLAY ----------------
const ov = d3.select(fig).append("svg")
  .attr("width", 4096).attr("height", 3601)
  .style("position", "absolute").style("left", "0px").style("top", "0px").style("overflow", "visible");

function txt(s, x, y, size, o = {}) {
  return ov.append("text").attr("x", x * S).attr("y", y * S)
    .attr("font-size", size * S).attr("font-family", FONT)
    .attr("font-weight", o.weight || "normal").attr("fill", o.fill || "#000")
    .attr("text-anchor", o.anchor || "start").text(s);
}

const headings = [
  ["Sex specifically spliced genes", 2689, 109, 116, {anchor: "middle"}],
  ["Fig 3. Ray, Conard 2022", 5580, 104, 112, {anchor: "end", weight: "bold"}],
  ["Sex biased genes", 2870, 2597, 118, {anchor: "middle"}],
  ["Female", 1450, 238, 112, {anchor: "middle", fill: "#ff0000"}],
  ["Male", 4346, 247, 112, {anchor: "middle", fill: "#2b4de8"}],
  ["Female", 1457, 2728, 112, {anchor: "middle", fill: "#ff0000"}],
  ["Male", 4352, 2728, 112, {anchor: "middle", fill: "#2b4de8"}],
  ["Pre-MZT", 840, 292, 93, {anchor: "middle"}],
  ["Post-MZT", 2172, 288, 93, {anchor: "middle"}],
  ["Pre-MZT", 3537, 291, 93, {anchor: "middle"}],
  ["Post-MZT", 4952, 291, 93, {anchor: "middle"}],
  ["Pre-MZT", 812, 2743, 93, {anchor: "middle"}],
  ["Post-MZT", 2172, 2743, 93, {anchor: "middle"}],
  ["Pre-MZT", 3563, 2743, 93, {anchor: "middle"}],
  ["Post-MZT", 4952, 2743, 93, {anchor: "middle"}],
  ["A", 154, 215, 113, {weight: "bold"}],
  ["B", 2976, 217, 113, {weight: "bold"}],
  ["C", 157, 1420, 113, {weight: "bold"}],
  ["D", 2981, 1420, 113, {weight: "bold"}],
  ["E", 161, 2729, 113, {weight: "bold"}],
  ["F", 2977, 2728, 113, {weight: "bold"}],
  ["G", 161, 3885, 113, {weight: "bold"}],
  ["H", 2986, 3885, 113, {weight: "bold"}]
];
for (const h of headings) txt(h[0], h[1], h[2], h[3], h[4]);

// rotated y-axis titles
for (const cy of [766, 1900, 3212, 4352]) {
  ov.append("text")
    .attr("transform", `translate(${79 * S},${cy * S}) rotate(-90)`)
    .attr("text-anchor", "middle").attr("font-size", 86 * S).attr("font-family", FONT)
    .attr("fill", "#000").text("CLAMP enrichment");
}

// legends
const legendColors = ["#e81818", "#2a2ad6", "#1d8a1d"];
const legendLayout = [
  {panel: "A_pre", texts: legendA, x0: 25, x1: 147, tx: 165, ly: [33, 155, 311], bl: [[56,120],[189,251],[323,387]]},
  {panel: "C_pre", texts: legendC, x0: 31, x1: 152, tx: 168, ly: [32, 172, 319], bl: [[61,121],[197,255],[340,402]]},
  {panel: "E_pre", texts: legendE, x0: 30, x1: 150, tx: 164, ly: [53, 185, 320], bl: [[73,130],[207,271],[347,409]]},
  {panel: "G_pre", texts: legendG, x0: 22, x1: 142, tx: 156, ly: [42, 179, 326], bl: [[71,131],[209,270],[355,415]]}
];
for (const lg of legendLayout) {
  const p = panels.find(d => d.key === lg.panel);
  lg.texts.forEach((pair, k) => {
    ov.append("line")
      .attr("x1", (p.L + lg.x0) * S).attr("x2", (p.L + lg.x1) * S)
      .attr("y1", (p.T + lg.ly[k]) * S).attr("y2", (p.T + lg.ly[k]) * S)
      .attr("stroke", seriesColors[k]).attr("stroke-width", 5);
    txt(pair[0], p.L + lg.tx, p.T + lg.bl[k][0], 69, {fill: legendColors[k]});
    txt(pair[1], p.L + lg.tx, p.T + lg.bl[k][1], 69, {fill: legendColors[k]});
  });
}

// dashed highlight boxes
const boxes = [
  [1734, 373, 2551, 2479],
  [346, 806, 504, 1354],
  [362, 1927, 520, 2474],
  [4456, 382, 5272, 2489],
  [1732, 2815, 2550, 4910],
  [4465, 2803, 5281, 4910]
];
for (const b of boxes) {
  ov.append("rect")
    .attr("x", b[0] * S).attr("y", b[1] * S)
    .attr("width", (b[2] - b[0]) * S).attr("height", (b[3] - b[1]) * S)
    .attr("fill", "none").attr("stroke", "#333").attr("stroke-width", 1.6)
    .attr("stroke-dasharray", "6 4");
}

// bioRxiv watermark
const wm1 = ov.append("text").attr("x", 140 * S).attr("y", 2925 * S)
  .attr("font-size", 19 * S).attr("font-family", FONT).attr("fill", "#000")
  .attr("textLength", 1317 * S).attr("lengthAdjust", "spacingAndGlyphs");
wm1.append("tspan").text("bioRxiv preprint doi: ");
wm1.append("tspan").attr("fill", "#0000ee").text("https://doi.org/10.1101/2021.03.18.436074");
wm1.append("tspan").text("; this version posted March 18, 2023. The copyright holder for this preprint");
ov.append("text").attr("x", 254 * S).attr("y", 2947 * S)
  .attr("font-size", 19 * S).attr("font-family", FONT).attr("fill", "#000")
  .attr("textLength", 1107 * S).attr("lengthAdjust", "spacingAndGlyphs")
  .text("(which was not certified by peer review) is the author/funder. All rights reserved. No reuse allowed without permission.");
</script>
</body>
</html>
